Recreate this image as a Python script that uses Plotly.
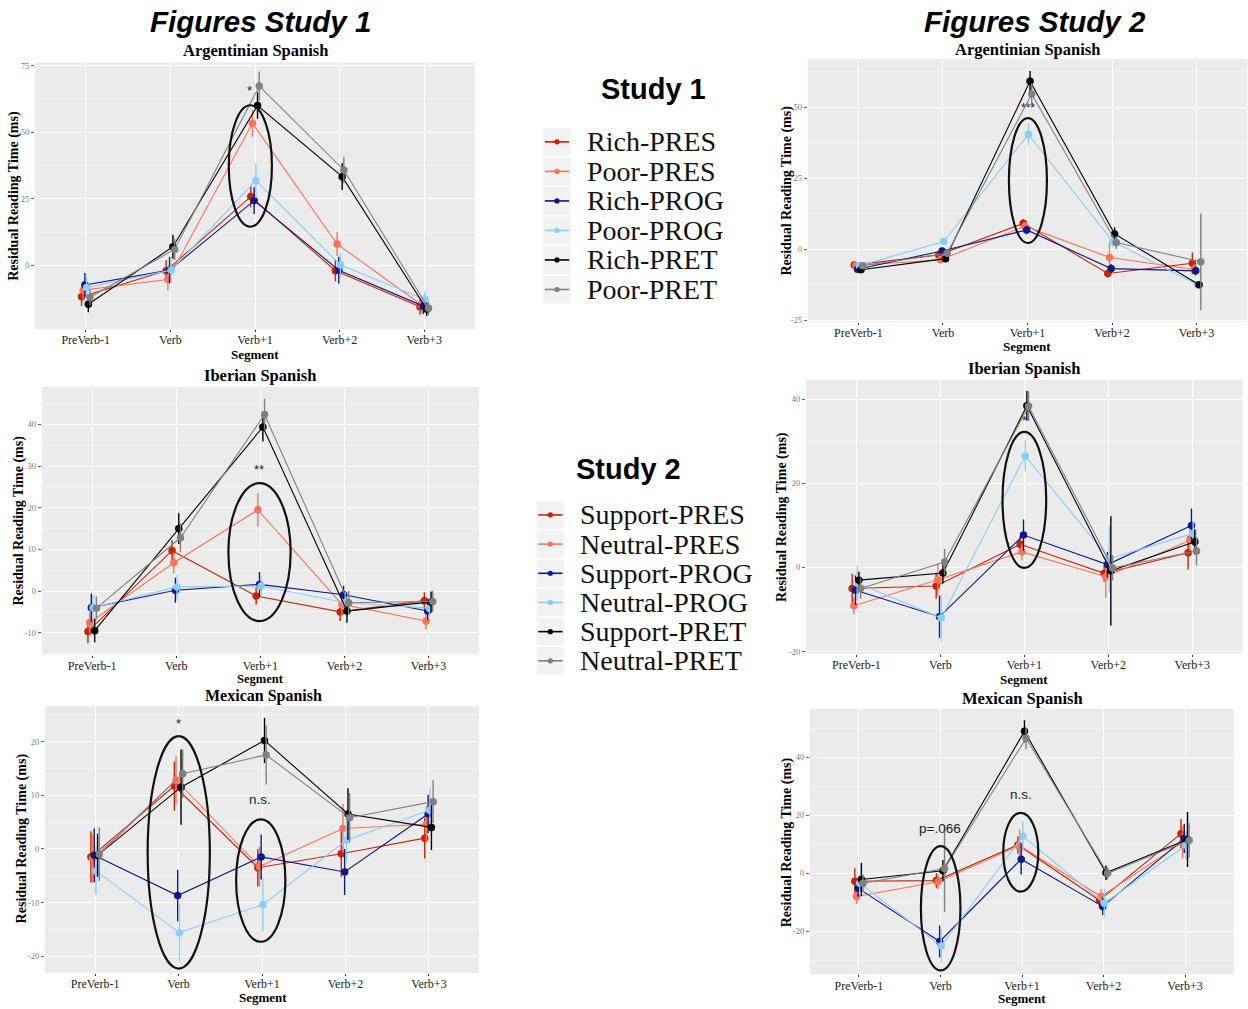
import plotly.graph_objects as go

W, H = 1248, 1009

SEGMENTS = ["PreVerb-1", "Verb", "Verb+1", "Verb+2", "Verb+3"]
S1_CONDS = ["Rich-PRES", "Poor-PRES", "Rich-PROG", "Poor-PROG", "Rich-PRET", "Poor-PRET"]
S2_CONDS = ["Support-PRES", "Neutral-PRES", "Support-PROG", "Neutral-PROG", "Support-PRET", "Neutral-PRET"]
COLORS = ["#CC2200", "#FF7256", "#0A1A8C", "#87CEFA", "#000000", "#808080"]

# ---- Study 1, Argentinian Spanish (order = S1_CONDS)
S1_ARG_MEANS = [
    [-11.8, -2.0, 25.8, -2.0, -15.5],
    [-9.3, -5.3, 53.3, 8.0, -14.9],
    [-7.4, -1.8, 24.3, -1.8, -15.3],
    [-8.3, -1.8, 31.8, 0.1, -12.8],
    [-14.6, 7.0, 60.0, 33.3, -16.5],
    [-12.0, 6.0, 67.3, 35.8, -16.1],
]
S1_ARG_ERRS = [
    [3.5, 4, 4, 4, 3],
    [3.5, 4, 5, 4.5, 3],
    [4.5, 5, 5, 5, 3],
    [4, 5, 6.5, 4.5, 3],
    [3, 4.5, 5, 5, 2.5],
    [3, 4, 5.5, 5, 2.5],
]
# ---- Study 1, Iberian Spanish
S1_IB_MEANS = [
    [-9.7, 9.7, -1.2, -5.0, -2.3],
    [-7.6, 6.8, 19.5, -3.2, -7.2],
    [-4.0, 0.2, 1.6, -0.9, -4.8],
    [-4.0, 1.0, 1.2, -2.8, -4.1],
    [-9.5, 15.0, 39.4, -4.8, -2.6],
    [-4.1, 12.8, 42.4, -2.8, -2.5],
]
S1_IB_ERRS = [
    [2.8, 2.5, 2, 2.2, 2],
    [2.5, 2.5, 4, 2.5, 2],
    [3.4, 3, 3, 2.2, 2],
    [3, 3, 2.5, 2.5, 2],
    [2.8, 3.7, 3.5, 2.8, 2.5],
    [2.8, 3.5, 3.8, 2.8, 2.5],
]
# ---- Study 1, Mexican Spanish
S1_MEX_MEANS = [
    [-1.5, 11.7, -3.5, -0.9, 2.0],
    [-1.8, 12.8, -3.3, 3.8, 4.6],
    [-1.2, -8.7, -1.5, -4.3, 6.5],
    [-4.1, -15.6, -10.4, 1.6, 7.2],
    [-1.2, 11.5, 20.2, 6.5, 4.0],
    [-1.0, 14.0, 17.5, 5.8, 8.8],
]
S1_MEX_ERRS = [
    [4.8, 4.6, 3.5, 4.3, 3.8],
    [4.5, 4.5, 3.7, 4.6, 3.4],
    [5, 4.8, 4.2, 4.3, 3.6],
    [4.5, 5.4, 5, 4, 4],
    [4, 7, 4.2, 4.8, 4.2],
    [5, 4.5, 5.5, 4.6, 4],
]
# ---- Study 2, Argentinian Spanish (order = S2_CONDS)
S2_ARG_MEANS = [
    [-5.5, -2.0, 9.1, -8.5, -4.9],
    [-5.7, -3.7, 8.1, -2.9, -7.1],
    [-7.0, -0.6, 6.8, -6.8, -7.6],
    [-5.8, 2.7, 40.4, 2.7, -12.5],
    [-7.2, -3.3, 59.1, 5.4, -12.5],
    [-5.8, -1.4, 54.6, 2.4, -4.4],
]
S2_ARG_ERRS = [
    [1, 1.2, 1.5, 1.5, 3.8],
    [1, 1.2, 1.5, 5, 2],
    [1, 1.2, 1.5, 1.5, 1.5],
    [1, 1.2, 3.7, 2, 1],
    [1, 1.2, 3.6, 2.3, 1],
    [1, 1.2, 3.8, 2.3, 17],
]
# ---- Study 2, Iberian Spanish
S2_IB_MEANS = [
    [-5.0, -4.4, 5.5, -1.4, 3.5],
    [-9.1, -2.9, 3.7, -2.2, 6.5],
    [-5.4, -11.7, 7.7, 0.7, 10.0],
    [-3.7, -12.0, 26.5, 2.1, 8.1],
    [-3.0, -1.3, 38.4, -0.8, 6.1],
    [-5.0, 1.3, 38.3, -0.1, 3.9],
]
S2_IB_ERRS = [
    [3.5, 3, 2, 2, 4],
    [2, 3.9, 2, 5, 2.5],
    [3.5, 5, 3.7, 3, 4],
    [4.2, 5.5, 3.7, 8, 3],
    [2, 2.5, 3.5, 13, 3],
    [2.4, 3.1, 3.5, 3, 3.4],
]
# ---- Study 2, Mexican Spanish
S2_MEX_MEANS = [
    [-2.7, -2.5, 9.8, -9.3, 13.7],
    [-8.0, -2.9, 9.6, -8.0, 10.7],
    [-5.1, -23.5, 4.9, -11.4, 12.0],
    [-3.4, -25.1, 12.8, -10.3, 9.7],
    [-2.1, 0.9, 49.0, 0.2, 11.7],
    [-3.4, 1.7, 46.6, 0.0, 11.4],
]
S2_MEX_ERRS = [
    [4.5, 2.5, 3, 2.5, 5.1],
    [2.5, 2.5, 5.5, 2.5, 5.6],
    [3, 5.5, 5.3, 3, 5],
    [3, 5.7, 5.3, 4.9, 5],
    [5.8, 3.7, 3.8, 2.5, 9.5],
    [3, 15, 3.8, 2, 6],
]

# panel layout: plot area in pixels (left, right, top, bottom), y range, tick step
PANELS = [
    dict(title="Argentinian Spanish", means=S1_ARG_MEANS, errs=S1_ARG_ERRS, conds=S1_CONDS,
         px=(35, 475, 60.7, 329), yr=(-23.9, 76.2), ticks=[0, 25, 50, 75], minor=12.5,
         title_xy=(255, 49), ytitle_xy=(14, 195), xtitle_xy=(255, 354.5), xtitle_size=13, title_size=16.5,
         ellipses=[(1.69, 2.20, 14.5, 60.1)], notes=[("*", 1.94, 62.0, 13)]),
    dict(title="Iberian Spanish", means=S1_IB_MEANS, errs=S1_IB_ERRS, conds=S1_CONDS,
         px=(41.7, 479, 387.3, 656.7), yr=(-15.3, 49.0), ticks=[-10, 0, 10, 20, 30, 40], minor=5,
         title_xy=(260, 376), ytitle_xy=(19, 521.7), xtitle_xy=(260, 681.5), xtitle_size=12.5, title_size=16.5,
         ellipses=[(1.62, 2.36, -7.2, 25.9)], notes=[("**", 1.98, 26.8, 13)]),
    dict(title="Mexican Spanish", means=S1_MEX_MEANS, errs=S1_MEX_ERRS, conds=S1_CONDS,
         px=(45, 479, 708.3, 976.7), yr=(-23.1, 26.6), ticks=[-20, -10, 0, 10, 20], minor=5,
         title_xy=(263, 698.5), ytitle_xy=(21.7, 841.7), xtitle_xy=(263, 1001.5), xtitle_size=13, title_size=16,
         ellipses=[(0.63, 1.375, -22.3, 21.0), (1.69, 2.28, -17.3, 5.5)],
         notes=[("*", 1.0, 21.6, 13), ("n.s.", 1.98, 7.4, 13.5)]),
    dict(title="Argentinian Spanish", means=S2_ARG_MEANS, errs=S2_ARG_ERRS, conds=S2_CONDS,
         px=(807.7, 1247.3, 57.3, 321.7), yr=(-25.5, 66.9), ticks=[-25, 0, 25, 50], minor=12.5,
         title_xy=(1027, 47.3), ytitle_xy=(786.7, 190), xtitle_xy=(1027, 346.5), xtitle_size=13, title_size=16.5,
         ellipses=[(1.78, 2.23, 2.2, 46.1)], notes=[("***", 2.01, 46.6, 12)]),
    dict(title="Iberian Spanish", means=S2_IB_MEANS, errs=S2_IB_ERRS, conds=S2_CONDS,
         px=(806, 1242.7, 380, 655.7), yr=(-20.5, 44.6), ticks=[-20, 0, 20, 40], minor=10,
         title_xy=(1024, 369), ytitle_xy=(782.7, 518.3), xtitle_xy=(1024, 681.5), xtitle_size=13, title_size=16.5,
         ellipses=[(1.74, 2.26, -0.1, 32.2)], notes=[("*", 2.0, 32.6, 12)]),
    dict(title="Mexican Spanish", means=S2_MEX_MEANS, errs=S2_MEX_ERRS, conds=S2_CONDS,
         px=(810, 1234, 711, 978.3), yr=(-34.9, 56.8), ticks=[-20, 0, 20, 40], minor=10,
         title_xy=(1022, 700.7), ytitle_xy=(787.3, 845), xtitle_xy=(1022, 1002), xtitle_size=13, title_size=16.5,
         ellipses=[(0.76, 1.245, -33.5, 9.4), (1.77, 2.2, -6.3, 20.9)],
         notes=[("p=.066", 1.0, 12.3, 13.5), ("n.s.", 1.99, 24.0, 13.5)]),
]

DODGE = 0.02
SERIF = "Liberation Serif"
SANS = "Liberation Sans"


def fx(x):
    return x / W


def fy(y):
    return 1 - y / H


fig = go.Figure()
layout = dict(
    width=W, height=H, margin=dict(l=0, r=0, t=0, b=0),
    paper_bgcolor="white", plot_bgcolor="#EBEBEB", showlegend=False,
)
annotations = []
shapes = []

for k, p in enumerate(PANELS):
    ax = "" if k == 0 else str(k + 1)
    for i in range(6):
        xs = [j + (i - 2.5) * DODGE for j in range(len(SEGMENTS))]
        fig.add_trace(go.Scatter(
            x=xs, y=p["means"][i], name=p["conds"][i],
            mode="lines+markers",
            line=dict(color=COLORS[i], width=1.1),
            marker=dict(color=COLORS[i], size=7.5),
            error_y=dict(type="data", array=p["errs"][i], color=COLORS[i], thickness=1.4, width=0),
            xaxis="x" + ax, yaxis="y" + ax, showlegend=False,
        ))
    l, r, t, b = p["px"]
    layout["xaxis" + ax] = dict(
        domain=[fx(l), fx(r)], anchor="y" + ax, range=[-0.6, 4.6],
        tickmode="array", tickvals=list(range(5)), ticktext=SEGMENTS,
        showgrid=True, gridcolor="white", gridwidth=1.1, zeroline=False,
        ticks="outside", ticklen=2, tickcolor="#333333", ticklabelstandoff=-2,
        tickfont=dict(family=SERIF, size=12, color="#222222"), showline=False,
    )
    layout["yaxis" + ax] = dict(
        domain=[fy(b), fy(t)], anchor="x" + ax, range=list(p["yr"]),
        tickmode="array", tickvals=p["ticks"], ticktext=[str(v) for v in p["ticks"]],
        showgrid=True, gridcolor="white", gridwidth=1.1, zeroline=False,
        ticks="outside", ticklen=3, tickcolor="#666666",
        tickfont=dict(family=SERIF, size=8.5, color="#777777"),
        minor=dict(tick0=0, dtick=p["minor"], showgrid=True, gridcolor="#F4F4F4", gridwidth=0.6, ticks=""),
    )
    # titles
    annotations.append(dict(text="<b>%s</b>" % p["title"], x=fx(p["title_xy"][0]), y=fy(p["title_xy"][1]),
                            xref="paper", yref="paper", showarrow=False, xanchor="center", yanchor="middle",
                            font=dict(family=SERIF, size=p["title_size"], color="black")))
    annotations.append(dict(text="<b>Residual Reading Time (ms)</b>", x=fx(p["ytitle_xy"][0]), y=fy(p["ytitle_xy"][1]),
                            xref="paper", yref="paper", showarrow=False, textangle=-90,
                            xanchor="center", yanchor="middle",
                            font=dict(family=SERIF, size=14, color="black")))
    annotations.append(dict(text="<b>Segment</b>", x=fx(p["xtitle_xy"][0]), y=fy(p["xtitle_xy"][1]),
                            xref="paper", yref="paper", showarrow=False, xanchor="center", yanchor="middle",
                            font=dict(family=SERIF, size=p["xtitle_size"], color="black")))
    for (x0, x1, y0, y1) in p["ellipses"]:
        shapes.append(dict(type="circle", xref="x" + ax, yref="y" + ax, x0=x0, x1=x1, y0=y0, y1=y1,
                           line=dict(color="#111111", width=2.2), fillcolor="rgba(0,0,0,0)"))
    for (txt, nx, ny, sz) in p["notes"]:
        annotations.append(dict(text=txt, x=nx, y=ny, xref="x" + ax, yref="y" + ax, showarrow=False,
                                xanchor="center", yanchor="bottom",
                                font=dict(family=SANS, size=sz, color="#222222")))

# headers
annotations.append(dict(text="<b><i>Figures Study 1</i></b>", x=fx(260), y=fy(20), xref="paper", yref="paper",
                        showarrow=False, xanchor="center", yanchor="middle",
                        font=dict(family=SANS, size=29.5, color="black")))
annotations.append(dict(text="<b><i>Figures Study 2</i></b>", x=fx(1035), y=fy(20), xref="paper", yref="paper",
                        showarrow=False, xanchor="center", yanchor="middle",
                        font=dict(family=SANS, size=29.5, color="black")))

# manual legends
LEGENDS = [
    dict(title="Study 1", title_xy=(653, 88), conds=S1_CONDS, box=(543.3, 570.7), row0=140.7, step=29.7, text_x=585),
    dict(title="Study 2", title_xy=(628, 470), conds=S2_CONDS, box=(536.7, 564), row0=516, step=29.35, text_x=578.3),
]
for lg in LEGENDS:
    annotations.append(dict(text="<b>%s</b>" % lg["title"], x=fx(lg["title_xy"][0]), y=fy(lg["title_xy"][1]),
                            xref="paper", yref="paper", showarrow=False, xanchor="center", yanchor="middle",
                            font=dict(family=SANS, size=29, color="black")))
    bx0, bx1 = lg["box"]
    for i, name in enumerate(lg["conds"]):
        cy = lg["row0"] + i * lg["step"]
        h = lg["step"] / 2
        shapes.append(dict(type="rect", xref="paper", yref="paper", x0=fx(bx0), x1=fx(bx1),
                           y0=fy(cy + h - 0.8), y1=fy(cy - h + 0.8), fillcolor="#F2F2F2", line=dict(width=0)))
        shapes.append(dict(type="line", xref="paper", yref="paper", x0=fx(bx0 + 1.5), x1=fx(bx1 - 1.5),
                           y0=fy(cy), y1=fy(cy), line=dict(color=COLORS[i], width=1.6)))
        cx = (bx0 + bx1) / 2
        shapes.append(dict(type="circle", xref="paper", yref="paper", x0=fx(cx - 2.6), x1=fx(cx + 2.6),
                           y0=fy(cy + 2.6), y1=fy(cy - 2.6), fillcolor=COLORS[i], line=dict(width=0)))
        annotations.append(dict(text=name, x=fx(lg["text_x"]), y=fy(cy), xref="paper", yref="paper",
                                showarrow=False, xanchor="left", yanchor="middle",
                                font=dict(family=SERIF, size=28, color="#111111")))

layout["annotations"] = annotations
layout["shapes"] = shapes
fig.update_layout(**layout)
fig.write_html("out.html", config={"displayModeBar": False},
               post_script="document.body.style.margin='0px';")
